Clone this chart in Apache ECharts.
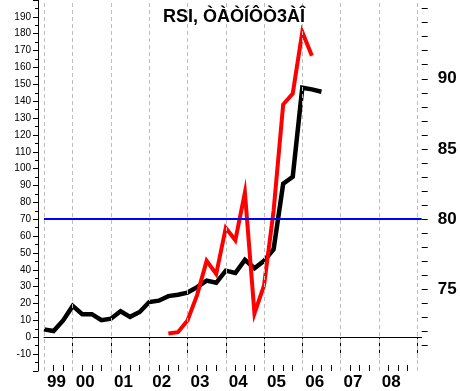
<!DOCTYPE html>
<html><head><meta charset="utf-8">
<script src="https://cdn.jsdelivr.net/npm/echarts@6/dist/echarts.min.js"></script>
<style>html,body{margin:0;padding:0;background:#fff;}#c{width:460px;height:391px;}</style>
</head><body><div id="c"></div>
<script>
// quarterly dates (decimal years)
const dates = [1999.25,1999.5,1999.75,2000,2000.25,2000.5,2000.75,2001,2001.25,2001.5,2001.75,2002,2002.25,2002.5,2002.75,2003,2003.25,2003.5,2003.75,2004,2004.25,2004.5,2004.75,2005,2005.25,2005.5,2005.75,2006,2006.25,2006.5];
const blackValues = [4.7,3.7,10,18.6,13.7,13.7,10.1,11,15.4,12.1,15,20.9,21.7,24.4,25.2,26.5,29.7,33.6,32.3,39.5,38.1,45.9,40.9,45.3,52.2,91,95.2,148,147,145.6];
const redValues = [null,null,null,null,null,null,null,null,null,null,null,null,null,2.3,3,10,25,45.3,37.5,64.9,57.5,85.8,14.1,30.7,75,138,144.5,181,167,null];
const yearLabels = ['99','00','01','02','03','04','05','06','07','08'];
const yearLabelPos = [1999.25,2000,2001,2002,2003,2004,2005,2006,2007,2008];
const yearBounds = [2000,2001,2002,2003,2004,2005,2006,2007,2008,2009];
const gridYears = [1999.25,2000,2001,2002,2003,2004,2005,2006,2007,2008,2009];
const quarterTicks = [1999.5,1999.75,2000.25,2000.5,2000.75,2001.25,2001.5,2001.75,2002.25,2002.5,2002.75,2003.25,2003.5,2003.75,2004.25,2004.5,2004.75,2005.25,2005.5,2005.75,2006.25,2006.5,2006.75,2007.25,2007.5,2007.75,2008.25,2008.5,2008.75];
const rightTicks = [71,72,73,74,75,76,77,78,79,80,81,82,83,84,85,86,87,88,89,90,91,92,93,94,95];
const rightLabels = [75,80,85,90];
const refLevel = 70;
const title = 'RSI, ÒÀÒÍÔÒ3ÀÎ';

const FONT = '"Liberation Sans", Arial, sans-serif';
const xMin = 1999.25, xMax = 2009.12;
const lMin = -20, lMax = 200;
const rMin = 80 - 90/8.328, rMax = 80 + 130/8.328;

const chart = echarts.init(document.getElementById('c'), null, {renderer:'canvas'});
const pts = (vals) => dates.map((d,i)=>[d, vals[i]]);
chart.setOption({
  animation: false,
  backgroundColor: '#fff',
  title: {text: title, left: 158, top: 3, textStyle: {fontFamily: FONT, fontSize: 18, fontWeight: 'bold', color: '#000'}},
  grid: {left: 44, right: 38.3, top: -2.1, bottom: 18, containLabel: false},
  xAxis: [
    {type:'value', min:xMin, max:xMax, position:'bottom',
     axisLine:{show:true, lineStyle:{color:'#000', width:1}},
     axisTick:{show:true, inside:false, length:20, customValues: yearBounds, lineStyle:{color:'#000', width:1}},
     axisLabel:{show:true, customValues: yearLabelPos, align:'left', margin:3, padding:[0,0,0,3],
       formatter:(v)=>{const i=yearLabelPos.indexOf(v); return i>=0?yearLabels[i]:'';},
       fontFamily:FONT, fontSize:17, fontWeight:'bold', color:'#000'},
     splitLine:{show:false}},
    {type:'value', min:xMin, max:xMax, position:'bottom', offset:0,
     axisLine:{show:false},
     axisTick:{show:true, inside:true, length:6, customValues: quarterTicks, lineStyle:{color:'#000', width:1}},
     axisLabel:{show:false}, splitLine:{show:false}}
  ],
  yAxis: [
    {type:'value', min:lMin, max:lMax, interval:10, position:'left', offset:6,
     axisLine:{show:true, lineStyle:{color:'#000', width:1}},
     axisTick:{show:true, length:5, lineStyle:{color:'#000'}},
     minorTick:{show:true, splitNumber:2, length:3, lineStyle:{color:'#000'}},
     axisLabel:{margin:7, fontFamily:FONT, fontSize:10, color:'#000',
       formatter:(v)=> (v<=-20||v>=200)?'':String(v)},
     splitLine:{show:false}},
    {type:'value', min:rMin, max:rMax, position:'right',
     axisLine:{show:false},
     axisTick:{show:true, length:6, customValues: rightTicks, lineStyle:{color:'#000'}},
     axisLabel:{customValues: rightLabels, margin:16, fontFamily:FONT, fontSize:17, fontWeight:'bold', color:'#000'},
     splitLine:{show:false}}
  ],
  series: [
    {type:'line', xAxisIndex:0, yAxisIndex:0, data:[], silent:true, z:1,
     markLine:{silent:true, symbol:['none','none'], label:{show:false}, animation:false,
       lineStyle:{color:'#bdbdbd', type:[4,3], width:1},
       data: gridYears.map(v=>({xAxis:v}))}},
    {type:'line', xAxisIndex:0, yAxisIndex:0, data: pts(blackValues), showSymbol:false, symbol:'none', z:3,
     lineStyle:{color:'#000', width:4.5, join:'miter'}},
    {type:'line', xAxisIndex:0, yAxisIndex:0, data: pts(redValues), showSymbol:false, symbol:'none', connectNulls:false, z:4,
     lineStyle:{color:'#ff0000', width:4, join:'miter'},
     markLine:{silent:true, symbol:['none','none'], label:{show:false}, animation:false,
       lineStyle:{color:'#0000ff', type:'solid', width:2},
       data:[{yAxis: refLevel}]}}
  ]
});
</script></body></html>
